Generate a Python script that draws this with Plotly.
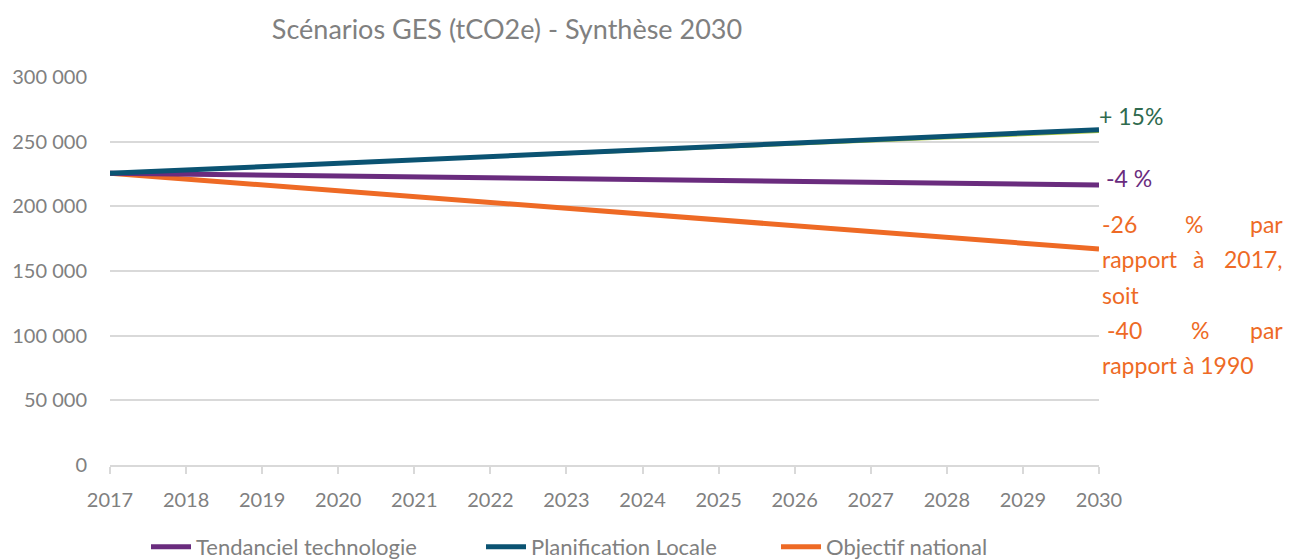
import plotly.graph_objects as go

years = list(range(2017, 2031))
tendanciel = [225500, 224800, 224100, 223400, 222700, 222000, 221300, 220700, 220000, 219300, 218600, 217900, 217200, 216500]
planification = [225500, 228100, 230700, 233300, 235900, 238500, 241100, 243700, 246300, 248900, 251500, 254100, 256700, 259300]
hidden_series = [225500, 227960, 230420, 232880, 235340, 237800, 240260, 242720, 245180, 247640, 250100, 252560, 255020, 257480]
objectif = [225500, 221000, 216500, 212000, 207500, 203000, 198500, 194000, 189500, 185000, 180500, 176000, 171500, 167000]

y_ticks = [0, 50000, 100000, 150000, 200000, 250000, 300000]

PURPLE = "#6A2C7E"
BLUE = "#0B5372"
ORANGE = "#EE6A25"
GREEN_TXT = "#2F6A4E"
GRAY = "#808080"
FONT = "Lato"

# page body has an 8px margin: work in screen pixels and shift
OFF = 8
W, H = 1293 - OFF, 560 - OFF
PL, PR, PT, PB = 110, 1099, 77, 465  # plot area in screen pixels
L, R, T, B = PL - OFF, W - (PR - OFF), PT - OFF, H - (PB - OFF)
pw, ph = W - L - R, H - T - B

def px(x):
    return (x - PL) / pw

def py(y):
    return (PB - y) / ph

fig = go.Figure()
fig.add_trace(go.Scatter(x=years, y=hidden_series, mode="lines", line=dict(color="#A8C43A", width=2),
                         showlegend=False, hoverinfo="skip"))
fig.add_trace(go.Scatter(x=years, y=objectif, mode="lines", name="Objectif national",
                         line=dict(color=ORANGE, width=5), legend="legend3"))
fig.add_trace(go.Scatter(x=years, y=tendanciel, mode="lines", name="Tendanciel technologie",
                         line=dict(color=PURPLE, width=5), legend="legend"))
fig.add_trace(go.Scatter(x=years, y=planification, mode="lines", name="Planification Locale",
                         line=dict(color=BLUE, width=5), legend="legend2"))

ann = []
def add(text, x, y, color, anchor="left", size=23):
    ann.append(dict(text=text, x=px(x), y=py(y), xref="paper", yref="paper",
                    xanchor=anchor, yanchor="middle", showarrow=False, borderpad=0,
                    font=dict(family=FONT, size=size, color=color)))

RIGHT = 1284
add("+ 15%", 1098, 116, GREEN_TXT)
add("-4 %", 1105, 178, PURPLE)
add("-26", 1101, 224, ORANGE)
add("%", 1194, 224, ORANGE, "center")
add("par", RIGHT, 224, ORANGE, "right")
add("rapport", 1101, 259, ORANGE)
add("à", 1198, 259, ORANGE, "center")
add("2017,", RIGHT, 259, ORANGE, "right")
add("soit", 1101, 295, ORANGE)
add("-40", 1106, 330, ORANGE)
add("%", 1200, 330, ORANGE, "center")
add("par", RIGHT, 330, ORANGE, "right")
add("rapport à 1990", 1101, 365, ORANGE)

def legend_at(x):
    return dict(orientation="h", x=px(x), xanchor="left", y=py(547), yanchor="middle",
                font=dict(family=FONT, size=22, color=GRAY), itemwidth=40,
                bgcolor="rgba(0,0,0,0)")

fig.update_layout(
    width=W, height=H,
    margin=dict(l=L, r=R, t=T, b=B, autoexpand=False),
    paper_bgcolor="white", plot_bgcolor="white",
    separators=", ",
    font=dict(family=FONT, color=GRAY),
    title=dict(text="Scénarios GES (tCO2e) - Synthèse 2030", x=px(507), xref="paper", xanchor="center",
               y=1 - (30 - OFF) / H, yref="container", yanchor="middle",
               font=dict(family=FONT, size=27, color=GRAY)),
    xaxis=dict(range=[2017, 2030], tickmode="array", tickvals=years, ticktext=[str(y) for y in years],
               showgrid=False, showline=True, linecolor="#D9D9D9", linewidth=1.5,
               ticks="outside", ticklen=7, tickcolor="#D9D9D9", tickwidth=1.5,
               ticklabelstandoff=9, tickfont=dict(family=FONT, size=20, color=GRAY), zeroline=False),
    yaxis=dict(range=[0, 300000], tickmode="array", tickvals=y_ticks, tickformat=",d",
               showgrid=True, gridcolor="#D9D9D9", gridwidth=1.5, showline=False, zeroline=False,
               ticklabelstandoff=22, tickfont=dict(family=FONT, size=20, color=GRAY)),
    legend=legend_at(146),
    legend2=legend_at(481),
    legend3=legend_at(776),
    annotations=ann,
    showlegend=True,
)

fig.write_html("out.html")
